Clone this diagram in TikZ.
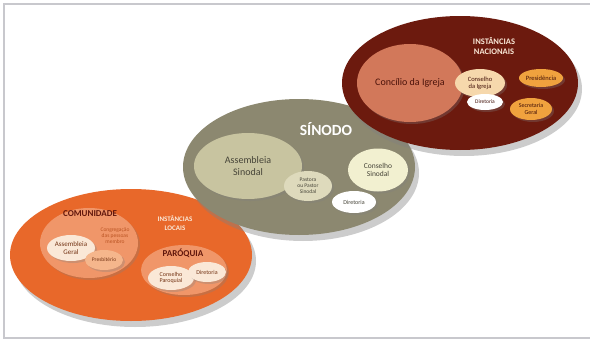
\documentclass[tikz,border=0pt]{standalone}
\usepackage{fontspec}
\setmainfont{Carlito}
\usetikzlibrary{shapes.geometric,shadows}

\definecolor{localbg}{RGB}{232,104,42}
\definecolor{localin}{RGB}{240,150,105}
\definecolor{localpale}{RGB}{250,232,215}
\definecolor{localmid}{RGB}{245,182,140}
\definecolor{sinodbg}{RGB}{140,136,112}
\definecolor{sinodin}{RGB}{200,196,160}
\definecolor{sinodmid}{RGB}{222,218,188}
\definecolor{sinodpale}{RGB}{242,240,208}
\definecolor{nacbg}{RGB}{108,26,14}
\definecolor{nacin}{RGB}{210,120,90}
\definecolor{nacpale}{RGB}{246,216,172}
\definecolor{nacgold}{RGB}{240,162,62}
\definecolor{framegray}{RGB}{200,200,205}

\tikzset{
  blob/.style={ellipse, inner sep=0pt, align=center,
    drop shadow={opacity=0.3, shadow xshift=2pt, shadow yshift=-2pt}},
  bigblob/.style={ellipse, inner sep=0pt,
    drop shadow={opacity=0.4, shadow xshift=4pt, shadow yshift=-6pt}},
  tag/.style={font=\bfseries, align=center, inner sep=0pt}
}

\begin{document}
\begin{tikzpicture}[x=1pt,y=-1pt]
\useasboundingbox (0,0) rectangle (590,340);
\fill [white] (0,0) rectangle (590,340);
\draw [framegray, line width=2pt] (591,4)--(4,4)--(4,338)--(591,338);%frame

% instancias locais
\node [bigblob, fill=localbg, minimum width=242, minimum height=132] (locais) at (131,255) {};
\node [blob, fill=localin, minimum width=98, minimum height=70] (comunidade) at (89,243) {};
\node [tag, text=nacbg!90!black, font=\bfseries\fontsize{9}{10}\selectfont] (comtxt) at (90,214) {COMUNIDADE};
\node [tag, font=\fontsize{5.5}{6}\selectfont, text=localbg!80!black] (congtxt) at (115,236) {Congregação\\das pessoas\\membro};
\node [blob, fill=localpale, minimum width=48, minimum height=26, font=\fontsize{7}{7.5}\selectfont, text=localbg!50!black] (assgeral) at (71,248) {Assembleia\\Geral};
\node [blob, fill=localmid, minimum width=38, minimum height=20, font=\fontsize{5.5}{6}\selectfont, text=localbg!50!black] (presb) at (104,260) {Presbitério};
\node [tag, text=localpale, font=\bfseries\fontsize{7}{8.5}\selectfont] (loctxt) at (175,223) {INSTÂNCIAS\\LOCAIS};
\node [blob, fill=localin, minimum width=86, minimum height=50] (paroquia) at (184,270) {};
\node [tag, text=nacbg!90!black, font=\bfseries\fontsize{9}{10}\selectfont] (partxt) at (183,253) {PARÓQUIA};
\node [blob, fill=localpale, minimum width=46, minimum height=24, font=\fontsize{6}{6.5}\selectfont, text=localbg!50!black] (conspar) at (171,278) {Conselho\\Paroquial};
\node [blob, fill=localpale, minimum width=38, minimum height=20, font=\fontsize{6}{6.5}\selectfont, text=localbg!50!black] (dirloc) at (207,272) {Diretoria};

% sinodo
\node [bigblob, fill=sinodbg, minimum width=232, minimum height=136] (sinodo) at (299,167) {};
\node [tag, text=white, font=\bfseries\fontsize{15.5}{17}\selectfont] (sintxt) at (326,129) {SÍNODO};
\node [blob, fill=sinodin, minimum width=108, minimum height=66, font=\fontsize{10}{11.5}\selectfont, text=sinodbg!50!black] (asssin) at (248,166) {Assembleia\\Sinodal};
\node [blob, fill=sinodmid, minimum width=48, minimum height=30, font=\fontsize{5.5}{6}\selectfont, text=sinodbg!50!black] (pastor) at (308,186) {Pastora\\ou Pastor\\Sinodal};
\node [blob, fill=sinodpale, minimum width=60, minimum height=43, font=\fontsize{7.5}{8.5}\selectfont, text=sinodbg!50!black] (conssin) at (378,170) {Conselho\\Sinodal};
\node [blob, fill=white, minimum width=44, minimum height=22, font=\fontsize{6}{6.5}\selectfont, text=sinodbg!50!black] (dirsin) at (354,202) {Diretoria};

% instancias nacionais
\node [bigblob, fill=nacbg, minimum width=236, minimum height=134] (nacionais) at (460,83) {};
\node [blob, fill=nacin, minimum width=106, minimum height=78, font=\fontsize{10}{11}\selectfont, text=nacbg!70!black] (concilio) at (410,83) {Concílio da Igreja};
\node [tag, text=localpale, font=\bfseries\fontsize{8.5}{10.5}\selectfont] (nactxt) at (494,46) {INSTÂNCIAS\\NACIONAIS};
\node [blob, fill=nacpale, minimum width=50, minimum height=28, font=\fontsize{6.5}{7}\selectfont, text=nacbg!60!black] (consigr) at (480,83) {Conselho\\da Igreja};
\node [blob, fill=white, minimum width=36, minimum height=16, font=\fontsize{5.5}{6}\selectfont, text=nacbg!60!black] (dirnac) at (485,102) {Diretoria};
\node [blob, fill=nacgold, minimum width=44, minimum height=18, font=\fontsize{6.5}{7}\selectfont, text=nacbg!60!black] (presid) at (541,78) {Presidência};
\node [blob, fill=nacgold, minimum width=42, minimum height=22, font=\fontsize{6}{6.5}\selectfont, text=nacbg!60!black] (secret) at (531,109) {Secretaria\\Geral};

\end{tikzpicture}
\end{document}
